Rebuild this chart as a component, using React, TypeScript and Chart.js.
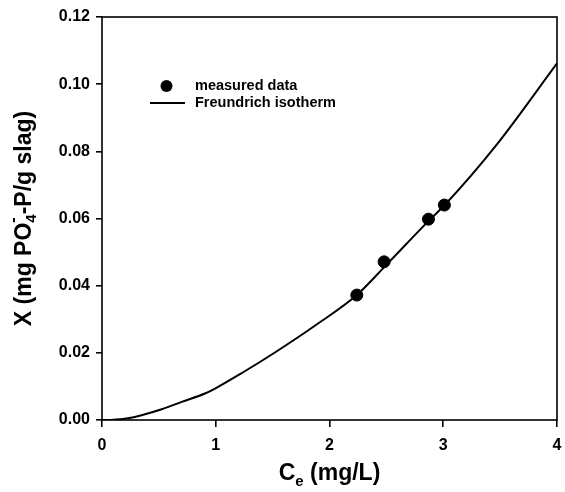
import React, { useEffect, useRef } from "react";
import { Chart, registerables } from "chart.js";

Chart.register(...registerables);

// Freundlich isotherm curve
const curveC = [0, 0.1, 0.23, 0.525, 0.7, 0.905, 0.99, 1.23, 1.52, 1.89, 2.24, 2.5, 2.88, 3.015, 3.47, 4.0];
const curveX = [0, 0.0001, 0.0005, 0.0032, 0.0054, 0.0079, 0.0093, 0.014, 0.0201, 0.0285, 0.0372, 0.0462, 0.0596, 0.0641, 0.082, 0.1062];

// measured data
const measuredC = [2.24, 2.48, 2.87, 3.01];
const measuredX = [0.0372, 0.0471, 0.0598, 0.064];

const xTicks = [0, 1, 2, 3, 4];
const yTicks = [0, 0.02, 0.04, 0.06, 0.08, 0.1, 0.12];

const legendLabels = ["measured data", "Freundrich isotherm"];

const FONT = '"Liberation Sans", Arial, Helvetica, sans-serif';

type Run = { t: string; size: number; dy?: number; over?: { t: string; size: number; dy: number } };

function drawRuns(ctx: CanvasRenderingContext2D, runs: Run[], cx: number, cy: number, mainSize: number) {
  let total = 0;
  const widths: number[] = [];
  for (const r of runs) {
    ctx.font = `bold ${r.size}px ${FONT}`;
    const w = ctx.measureText(r.t).width;
    widths.push(w);
    total += w;
  }
  let x = cx - total / 2;
  const base = cy + mainSize * 0.36;
  ctx.textAlign = "left";
  ctx.textBaseline = "alphabetic";
  runs.forEach((r, i) => {
    ctx.font = `bold ${r.size}px ${FONT}`;
    ctx.fillText(r.t, x, base + (r.dy || 0));
    if (r.over) {
      ctx.font = `bold ${r.over.size}px ${FONT}`;
      ctx.fillText(r.over.t, x, base + r.over.dy);
    }
    x += widths[i];
  });
}

const decorPlugin = {
  id: "decor",
  afterDraw(chart: any) {
    const { ctx, chartArea } = chart;
    ctx.save();
    // frame
    ctx.strokeStyle = "#000";
    ctx.lineWidth = 1.6;
    ctx.strokeRect(chartArea.left, chartArea.top, chartArea.right - chartArea.left, chartArea.bottom - chartArea.top);

    ctx.fillStyle = "#000";
    // legend
    ctx.beginPath();
    ctx.arc(166.5, 86, 6, 0, Math.PI * 2);
    ctx.fill();
    ctx.beginPath();
    ctx.moveTo(150, 103);
    ctx.lineTo(185, 103);
    ctx.lineWidth = 2;
    ctx.stroke();
    ctx.font = `bold 14.5px ${FONT}`;
    ctx.textAlign = "left";
    ctx.textBaseline = "middle";
    ctx.fillText(legendLabels[0], 195, 86);
    ctx.fillText(legendLabels[1], 195, 103);

    // x title
    drawRuns(
      ctx,
      [
        { t: "C", size: 23 },
        { t: "e", size: 15, dy: 6 },
        { t: " (mg/L)", size: 23 },
      ],
      (chartArea.left + chartArea.right) / 2,
      472,
      23
    );

    // y title
    ctx.save();
    ctx.translate(23, (chartArea.top + chartArea.bottom) / 2);
    ctx.rotate(-Math.PI / 2);
    drawRuns(
      ctx,
      [
        { t: "X (mg PO", size: 23 },
        { t: "4", size: 15, dy: 5, over: { t: "-", size: 16, dy: -13 } },
        { t: "-P/g slag)", size: 23 },
      ],
      0,
      0,
      23
    );
    ctx.restore();
    ctx.restore();
  },
};

export default function App() {
  const ref = useRef<HTMLCanvasElement>(null);
  useEffect(() => {
    if (!ref.current) return;
    const chart = new Chart(ref.current, {
      type: "scatter",
      data: {
        datasets: [
          {
            label: legendLabels[1],
            data: curveC.map((c, i) => ({ x: c, y: curveX[i] })),
            showLine: true,
            borderColor: "#000",
            borderWidth: 2,
            pointRadius: 0,
            cubicInterpolationMode: "monotone",
            order: 2,
          },
          {
            label: legendLabels[0],
            data: measuredC.map((c, i) => ({ x: c, y: measuredX[i] })),
            showLine: false,
            backgroundColor: "#000",
            borderColor: "#000",
            pointRadius: 6,
            order: 1,
          },
        ],
      },
      options: {
        animation: false,
        responsive: true,
        maintainAspectRatio: false,
        layout: { padding: { top: 17, right: 8, left: 0, bottom: 0 } },
        plugins: { legend: { display: false }, tooltip: { enabled: false } },
        scales: {
          x: {
            type: "linear",
            min: 0,
            max: 4,
            afterBuildTicks: (s: any) => {
              s.ticks = xTicks.map((v) => ({ value: v }));
            },
            afterFit: (s: any) => {
              s.height = 72;
              s.paddingLeft = 0;
              s.paddingRight = 0;
            },
            ticks: {
              color: "#000",
              font: { family: FONT, size: 16, weight: "bold" },
              padding: 9,
              maxRotation: 0,
              callback: (v: any) => String(v),
            },
            grid: { drawOnChartArea: false, drawTicks: true, tickLength: 7, color: "#000", lineWidth: 1.6 },
            border: { display: false },
          },
          y: {
            type: "linear",
            min: 0,
            max: 0.12,
            afterBuildTicks: (s: any) => {
              s.ticks = yTicks.map((v) => ({ value: v }));
            },
            afterFit: (s: any) => {
              s.width = 102;
              s.paddingTop = 0;
              s.paddingBottom = 0;
            },
            ticks: {
              color: "#000",
              font: { family: FONT, size: 16, weight: "bold" },
              padding: 6,
              callback: (v: any) => Number(v).toFixed(2),
            },
            grid: { drawOnChartArea: false, drawTicks: true, tickLength: 6, color: "#000", lineWidth: 1.6 },
            border: { display: false },
          },
        },
      },
      plugins: [decorPlugin],
    });
    return () => chart.destroy();
  }, []);
  return (
    <div style={{ position: "absolute", left: 0, top: 0, width: 565, height: 492, background: "#fff" }}>
      <canvas ref={ref} />
    </div>
  );
}
